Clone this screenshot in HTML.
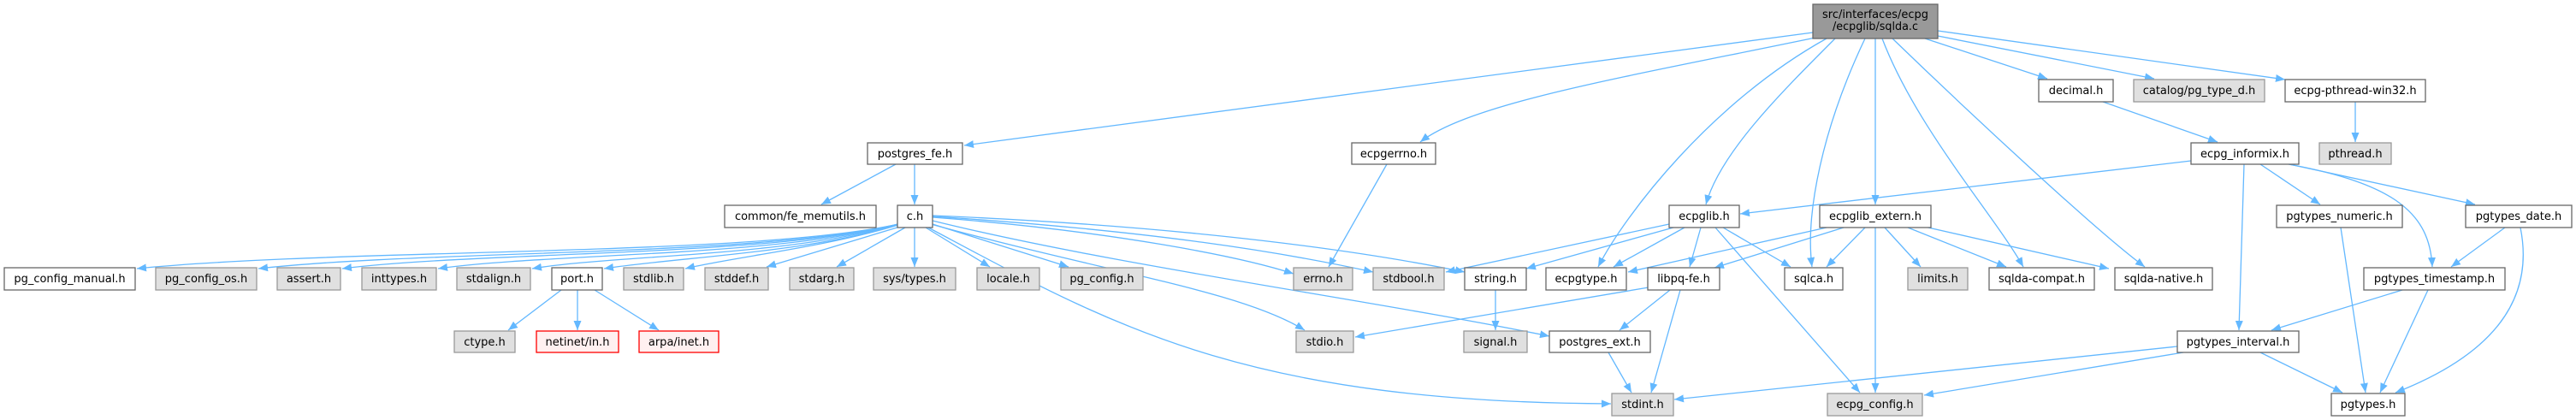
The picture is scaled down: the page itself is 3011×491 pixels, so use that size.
<!DOCTYPE html>
<html><head><meta charset="utf-8"><style>
html,body{margin:0;padding:0;background:#fff;}
svg{display:block;}
text{font-family:"DejaVu Sans","Liberation Sans",sans-serif;font-size:13px;fill:#000;}
.e{fill:none;stroke:#63b8ff;stroke-width:1.3;marker-end:url(#a);}
.w{fill:#fff;stroke:#666;stroke-width:1.3;}
.g{fill:#e0e0e0;stroke:#999;stroke-width:1.3;}
.r{fill:#fff0f0;stroke:#ff0000;stroke-width:1.3;}
.s{fill:#999;stroke:#666;stroke-width:1.3;}
</style></head><body>
<svg width="3011" height="491" viewBox="0 0 3011 491" xmlns="http://www.w3.org/2000/svg">
<defs><marker id="a" markerUnits="userSpaceOnUse" markerWidth="12" markerHeight="9" refX="11" refY="4.5" orient="auto"><path d="M0,0 L11,4.5 L0,9 z" fill="#63b8ff"/></marker></defs>

<!-- edges -->
<path class="e" d="M2119,38 L1127,170"/>
<path class="e" d="M2122,44 C1900,90 1720,120 1660,166"/>
<path class="e" d="M2145,45 C2080,110 2010,180 1994,239"/>
<path class="e" d="M2135,45 C2000,120 1900,250 1868,312"/>
<path class="e" d="M2180,45 C2130,150 2110,250 2118,312"/>
<path class="e" d="M2192,45 L2192,239"/>
<path class="e" d="M2200,45 C2240,150 2330,250 2365,312"/>
<path class="e" d="M2212,45 C2300,130 2450,270 2507,312"/>
<path class="e" d="M2250,45 L2393,92"/>
<path class="e" d="M2265,42 L2518,92"/>
<path class="e" d="M2265,36 L2671,93"/>
<path class="e" d="M1047,192 L960,239"/>
<path class="e" d="M1069,192 L1069,239"/>
<!-- c.h fan left -->
<path class="e" d="M1050,262 C880,300 400,290 160,314"/>
<path class="e" d="M1050,262 C890,300 500,292 302,314"/>
<path class="e" d="M1050,262 C900,300 560,294 400,314"/>
<path class="e" d="M1050,262 C910,300 640,296 512,314"/>
<path class="e" d="M1050,262 C920,300 720,298 622,314"/>
<path class="e" d="M1050,262 C950,295 800,300 706,314"/>
<path class="e" d="M1050,263 C960,290 860,300 801,314"/>
<path class="e" d="M1052,265 L896,312"/>
<path class="e" d="M1058,266 L978,312"/>
<path class="e" d="M1069,266 L1069,312"/>
<path class="e" d="M1082,266 L1157,312"/>
<path class="e" d="M1090,262 L1249,312"/>
<!-- c.h fan right -->
<path class="e" d="M1090,254 C1300,270 1450,300 1512,320"/>
<path class="e" d="M1090,253 C1350,270 1500,295 1605,318"/>
<path class="e" d="M1090,252 C1400,265 1600,295 1712,318"/>
<path class="e" d="M1088,262 C1300,320 1450,340 1525,386"/>
<path class="e" d="M1090,258 C1300,310 1600,350 1811,393"/>
<path class="e" d="M1085,266 C1300,380 1450,470 1883,472"/>
<!-- port -->
<path class="e" d="M656,339 L594,386"/>
<path class="e" d="M675,339 L675,386"/>
<path class="e" d="M695,339 L770,386"/>
<path class="e" d="M1621,192 L1553,312"/>
<!-- ecpglib -->
<path class="e" d="M1951,262 L1690,318"/>
<path class="e" d="M1956,266 L1784,314"/>
<path class="e" d="M1969,266 L1886,312"/>
<path class="e" d="M1988,266 L1975,312"/>
<path class="e" d="M2014,266 L2093,312"/>
<path class="e" d="M2005,266 L2174,459"/>
<!-- extern -->
<path class="e" d="M2135,266 L1903,318"/>
<path class="e" d="M2155,266 L2004,313"/>
<path class="e" d="M2180,266 L2135,312"/>
<path class="e" d="M2203,266 L2245,312"/>
<path class="e" d="M2192,266 L2192,459"/>
<path class="e" d="M2230,266 L2345,312"/>
<path class="e" d="M2245,264 L2465,314"/>
<path class="e" d="M1748,339 L1748,386"/>
<path class="e" d="M1927,336 L1584,394"/>
<path class="e" d="M1952,339 L1893,386"/>
<path class="e" d="M1964,339 L1930,459"/>
<path class="e" d="M1880,412 L1907,459"/>
<path class="e" d="M2458,119 L2592,166"/>
<path class="e" d="M2753,119 L2753,166"/>
<!-- informix -->
<path class="e" d="M2561,188 L2034,250"/>
<path class="e" d="M2642,192 L2712,239"/>
<path class="e" d="M2676,192 L2893,239"/>
<path class="e" d="M2675,192 C2800,215 2840,250 2843,312"/>
<path class="e" d="M2623,192 L2617,386"/>
<path class="e" d="M2736,266 L2765,459"/>
<path class="e" d="M2928,266 L2865,312"/>
<path class="e" d="M2946,266 C2965,360 2900,420 2800,459"/>
<path class="e" d="M2808,339 L2655,386"/>
<path class="e" d="M2838,339 L2782,459"/>
<path class="e" d="M2545,405 L1957,467"/>
<path class="e" d="M2552,412 L2249,462"/>
<path class="e" d="M2642,412 L2738,459"/>

<!-- nodes -->
<rect class="s" x="2119" y="5" width="146" height="40"/>
<text x="2192" y="21" text-anchor="middle" textLength="124" lengthAdjust="spacingAndGlyphs">src/interfaces/ecpg</text>
<text x="2192" y="35" text-anchor="middle" textLength="100" lengthAdjust="spacingAndGlyphs">/ecpglib/sqlda.c</text>

<g id="nodes"></g>
<rect class="w" x="2383" y="93" width="87" height="26"/><text x="2426.5" y="110" text-anchor="middle">decimal.h</text>
<rect class="g" x="2494" y="93" width="153" height="26"/><text x="2570.5" y="110" text-anchor="middle">catalog/pg_type_d.h</text>
<rect class="w" x="2671" y="93" width="164" height="26"/><text x="2753" y="110" text-anchor="middle">ecpg-pthread-win32.h</text>

<rect class="w" x="1014" y="167" width="111" height="25"/><text x="1069.5" y="184" text-anchor="middle">postgres_fe.h</text>
<rect class="w" x="1580" y="167" width="98" height="25"/><text x="1629" y="184" text-anchor="middle">ecpgerrno.h</text>
<rect class="w" x="2561" y="167" width="126" height="25"/><text x="2624" y="184" text-anchor="middle">ecpg_informix.h</text>
<rect class="g" x="2711" y="167" width="84" height="25"/><text x="2753" y="184" text-anchor="middle">pthread.h</text>

<rect class="w" x="847" y="240" width="177" height="26"/><text x="935.5" y="257" text-anchor="middle">common/fe_memutils.h</text>
<rect class="w" x="1049" y="240" width="41" height="26"/><text x="1069.5" y="257" text-anchor="middle">c.h</text>
<rect class="w" x="1951" y="240" width="82" height="26"/><text x="1992" y="257" text-anchor="middle">ecpglib.h</text>
<rect class="w" x="2127" y="240" width="130" height="26"/><text x="2192" y="257" text-anchor="middle">ecpglib_extern.h</text>
<rect class="w" x="2661" y="240" width="147" height="26"/><text x="2734.5" y="257" text-anchor="middle">pgtypes_numeric.h</text>
<rect class="w" x="2882" y="240" width="124" height="26"/><text x="2944" y="257" text-anchor="middle">pgtypes_date.h</text>

<rect class="w" x="5" y="313" width="153" height="26"/><text x="81.5" y="330" text-anchor="middle">pg_config_manual.h</text>
<rect class="g" x="182" y="313" width="118" height="26"/><text x="241" y="330" text-anchor="middle">pg_config_os.h</text>
<rect class="g" x="324" y="313" width="74" height="26"/><text x="361" y="330" text-anchor="middle">assert.h</text>
<rect class="g" x="423" y="313" width="87" height="26"/><text x="466.5" y="330" text-anchor="middle">inttypes.h</text>
<rect class="g" x="534" y="313" width="86" height="26"/><text x="577" y="330" text-anchor="middle">stdalign.h</text>
<rect class="w" x="645" y="313" width="59" height="26"/><text x="674.5" y="330" text-anchor="middle">port.h</text>
<rect class="g" x="729" y="313" width="70" height="26"/><text x="764" y="330" text-anchor="middle">stdlib.h</text>
<rect class="g" x="824" y="313" width="74" height="26"/><text x="861" y="330" text-anchor="middle">stddef.h</text>
<rect class="g" x="923" y="313" width="75" height="26"/><text x="960.5" y="330" text-anchor="middle">stdarg.h</text>
<rect class="g" x="1021" y="313" width="96" height="26"/><text x="1069" y="330" text-anchor="middle">sys/types.h</text>
<rect class="g" x="1142" y="313" width="73" height="26"/><text x="1178.5" y="330" text-anchor="middle">locale.h</text>
<rect class="g" x="1240" y="313" width="96" height="26"/><text x="1288" y="330" text-anchor="middle">pg_config.h</text>
<rect class="g" x="1512" y="313" width="69" height="26"/><text x="1546.5" y="330" text-anchor="middle">errno.h</text>
<rect class="g" x="1605" y="313" width="83" height="26"/><text x="1646.5" y="330" text-anchor="middle">stdbool.h</text>
<rect class="w" x="1712" y="313" width="72" height="26"/><text x="1748" y="330" text-anchor="middle">string.h</text>
<rect class="w" x="1807" y="313" width="94" height="26"/><text x="1854" y="330" text-anchor="middle">ecpgtype.h</text>
<rect class="w" x="1926" y="313" width="84" height="26"/><text x="1968" y="330" text-anchor="middle">libpq-fe.h</text>
<rect class="w" x="2086" y="313" width="68" height="26"/><text x="2120" y="330" text-anchor="middle">sqlca.h</text>
<rect class="g" x="2230" y="313" width="70" height="26"/><text x="2265" y="330" text-anchor="middle">limits.h</text>
<rect class="w" x="2325" y="313" width="123" height="26"/><text x="2386.5" y="330" text-anchor="middle">sqlda-compat.h</text>
<rect class="w" x="2472" y="313" width="114" height="26"/><text x="2529" y="330" text-anchor="middle">sqlda-native.h</text>
<rect class="w" x="2763" y="313" width="165" height="26"/><text x="2845.5" y="330" text-anchor="middle">pgtypes_timestamp.h</text>

<rect class="g" x="531" y="387" width="71" height="25"/><text x="566.5" y="404" text-anchor="middle">ctype.h</text>
<rect class="r" x="627" y="387" width="96" height="25"/><text x="675" y="404" text-anchor="middle">netinet/in.h</text>
<rect class="r" x="747" y="387" width="93" height="25"/><text x="793.5" y="404" text-anchor="middle">arpa/inet.h</text>
<rect class="g" x="1515" y="387" width="67" height="25"/><text x="1548.5" y="404" text-anchor="middle">stdio.h</text>
<rect class="g" x="1711" y="387" width="74" height="25"/><text x="1748" y="404" text-anchor="middle">signal.h</text>
<rect class="w" x="1811" y="387" width="118" height="25"/><text x="1870" y="404" text-anchor="middle">postgres_ext.h</text>
<rect class="w" x="2545" y="387" width="142" height="25"/><text x="2616" y="404" text-anchor="middle">pgtypes_interval.h</text>

<rect class="g" x="1884" y="460" width="72" height="26"/><text x="1920" y="477" text-anchor="middle">stdint.h</text>
<rect class="g" x="2136" y="460" width="111" height="26"/><text x="2191.5" y="477" text-anchor="middle">ecpg_config.h</text>
<rect class="w" x="2725" y="460" width="86" height="26"/><text x="2768" y="477" text-anchor="middle">pgtypes.h</text>
</svg>
</body></html>
